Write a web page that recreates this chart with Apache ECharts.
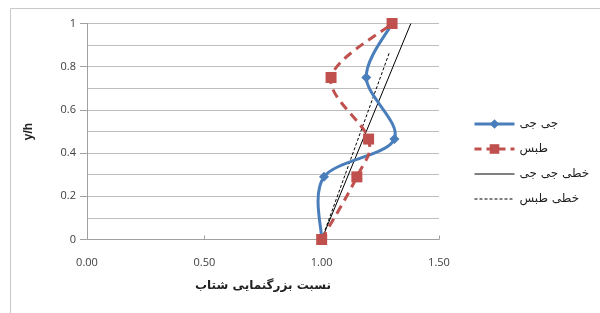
<!DOCTYPE html>
<html>
<head>
<meta charset="utf-8">
<script src="https://cdn.jsdelivr.net/npm/echarts@6/dist/echarts.min.js"></script>
<style>
html,body{margin:0;padding:0;background:#fff;}
#chart{width:600px;height:313px;}
</style>
</head>
<body>
<div id="chart"></div>
<script>
// Data
const seriesNames = ['جی جی', 'طبس', 'خطی جی جی', 'خطی طبس'];
const yLevels = [0, 0.29, 0.465, 0.75, 1];
const jijiX = [1.00, 1.01, 1.31, 1.19, 1.30];
const tabasX = [1.00, 1.15, 1.20, 1.04, 1.30];
const trendJijiX = [1.00, 1.38];
const trendJijiY = [0, 1.0];
const trendTabasX = [1.00, 1.29];
const trendTabasY = [0, 0.87];

const BLUE = '#4A7EBB', RED = '#C0504D';
const pairs = (xs, ys) => xs.map((x, i) => [x, ys[i]]);

// Excel-like smoothed curve (Catmull-Rom bezier) drawn through the axes' coord()
function smoothCurve(xs, ys, color, dash) {
  return function (params, api) {
    if (params.dataIndex !== 0) return null;
    const p = xs.map((x, i) => api.coord([x, ys[i]]));
    let d = 'M' + p[0][0] + ',' + p[0][1];
    for (let i = 0; i < p.length - 1; i++) {
      const p0 = p[Math.max(i - 1, 0)], p1 = p[i], p2 = p[i + 1], p3 = p[Math.min(i + 2, p.length - 1)];
      const c1 = [p1[0] + (p2[0] - p0[0]) / 6, p1[1] + (p2[1] - p0[1]) / 6];
      const c2 = [p2[0] - (p3[0] - p1[0]) / 6, p2[1] - (p3[1] - p1[1]) / 6];
      d += ' C' + c1[0] + ',' + c1[1] + ' ' + c2[0] + ',' + c2[1] + ' ' + p2[0] + ',' + p2[1];
    }
    return {
      type: 'path', shape: {pathData: d},
      style: {fill: 'none', stroke: color, lineWidth: 3, lineDash: dash || null, lineCap: 'butt'}
    };
  };
}

const chart = echarts.init(document.getElementById('chart'), null, {renderer: 'canvas'});
const labelFont = {color: '#404040', fontSize: 11, fontFamily: 'Open Sans, Liberation Sans, sans-serif'};

chart.setOption({
  animation: false,
  backgroundColor: '#fff',
  graphic: [{
    type: 'rect', shape: {x: 10.5, y: 8.5, width: 620, height: 330},
    style: {fill: 'none', stroke: '#c8c8c8', lineWidth: 1}, silent: true, z: -1
  }],
  grid: {left: 87, right: 161, top: 23.5, bottom: 73.5},
  legend: {
    orient: 'vertical', left: 468, top: 113,
    itemWidth: 40, itemHeight: 12, itemGap: 13,
    textStyle: {color: '#222', fontSize: 12, fontFamily: 'DejaVu Sans, sans-serif'},
    data: [
      {name: seriesNames[0], lineStyle: {width: 3, color: BLUE, type: 'solid'}},
      {name: seriesNames[1], lineStyle: {width: 3, color: RED, type: [7, 5]}},
      {name: seriesNames[2], itemStyle: {opacity: 0}, lineStyle: {width: 1, color: '#000'}},
      {name: seriesNames[3], itemStyle: {opacity: 0}, lineStyle: {width: 1, color: '#000', type: [3, 2]}}
    ]
  },
  xAxis: {
    type: 'value', min: 0, max: 1.5, interval: 0.5,
    name: 'نسبت بزرگنمایی شتاب', nameLocation: 'middle', nameGap: 40,
    nameTextStyle: {color: '#222', fontSize: 12, fontWeight: 'bold', fontFamily: 'DejaVu Sans, sans-serif'},
    axisLine: {show: true, lineStyle: {color: '#a0a0a0', width: 1}},
    axisTick: {show: true, inside: true, length: 4, lineStyle: {color: '#a0a0a0'}},
    axisLabel: Object.assign({margin: 18, formatter: v => v.toFixed(2)}, labelFont),
    splitLine: {show: false}
  },
  yAxis: {
    type: 'value', min: 0, max: 1, interval: 0.2,
    name: 'y/h', nameLocation: 'middle', nameGap: 52, nameRotate: 90,
    nameTextStyle: {color: '#222', fontSize: 12, fontWeight: 'bold', fontFamily: 'Liberation Sans, sans-serif'},
    axisLine: {show: true, lineStyle: {color: '#a0a0a0', width: 1}},
    axisTick: {show: true, length: 7, lineStyle: {color: '#a0a0a0'}},
    axisLabel: Object.assign({margin: 11}, labelFont),
    splitLine: {show: true, lineStyle: {color: '#bdbdbd', width: 1}},
    minorTick: {show: false, splitNumber: 2},
    minorSplitLine: {show: true, lineStyle: {color: '#bdbdbd', width: 1}}
  },
  series: [
    {
      name: seriesNames[0], type: 'line', data: pairs(jijiX, yLevels),
      symbol: 'diamond', symbolSize: 10,
      lineStyle: {color: BLUE, width: 0},
      itemStyle: {color: BLUE}, z: 5
    },
    {
      name: seriesNames[1], type: 'line', data: pairs(tabasX, yLevels),
      symbol: 'rect', symbolSize: 11,
      lineStyle: {color: RED, width: 0},
      itemStyle: {color: RED}, z: 6
    },
    {
      name: seriesNames[2], type: 'line', data: pairs(trendJijiX, trendJijiY),
      symbol: 'none', lineStyle: {color: '#000', width: 1},
      itemStyle: {color: '#000'}, z: 2
    },
    {
      name: seriesNames[3], type: 'line', data: pairs(trendTabasX, trendTabasY),
      symbol: 'none', lineStyle: {color: '#000', width: 1, type: [3, 2]},
      itemStyle: {color: '#000'}, z: 2
    },
    {
      name: 'curve-jiji', type: 'custom', data: pairs(jijiX, yLevels),
      encode: {x: 0, y: 1}, z: 3,
      renderItem: smoothCurve(jijiX, yLevels, BLUE, null)
    },
    {
      name: 'curve-tabas', type: 'custom', data: pairs(tabasX, yLevels),
      encode: {x: 0, y: 1}, z: 4,
      renderItem: smoothCurve(tabasX, yLevels, RED, [9, 6])
    }
  ]
});
</script>
</body>
</html>
